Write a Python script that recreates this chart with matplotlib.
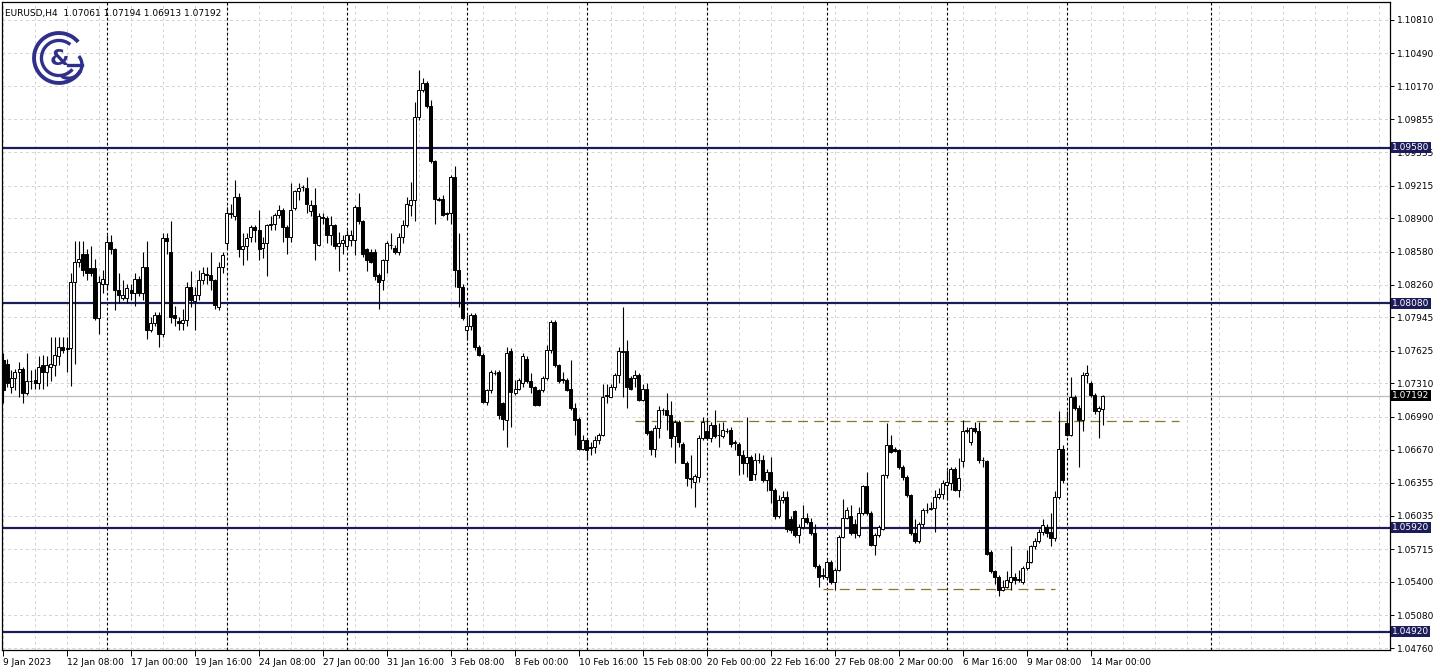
import matplotlib
matplotlib.use("Agg")
import matplotlib.pyplot as plt
import matplotlib.transforms as mtransforms
from matplotlib.patches import Arc
import numpy as np

# ---------------- data ----------------
opens = [1.0754,1.0750,1.0728,1.0736,1.0742,1.0745,1.0722,1.0733,1.0734,1.0731,
1.0749,1.0742,1.0747,1.0749,1.0757,1.0766,1.0765,1.0765,1.0829,1.0848,
1.0856,1.0856,1.0842,1.0842,1.0794,1.0827,1.0827,1.0867,1.0860,1.0821,
1.0813,1.0813,1.0821,1.0818,1.0832,1.0818,1.0843,1.0782,1.0789,1.0797,
1.0779,1.0871,1.0858,1.0797,1.0791,1.0789,1.0792,1.0824,1.0810,1.0816,
1.0831,1.0836,1.0835,1.0831,1.0805,1.0843,1.0866,1.0894,1.0892,1.0911,
1.0860,1.0863,1.0872,1.0882,1.0879,1.0861,1.0866,1.0884,1.0885,1.0893,
1.0898,1.0882,1.0872,1.0900,1.0916,1.0920,1.0919,1.0897,1.0903,1.0864,
1.0891,1.0890,1.0874,1.0884,1.0863,1.0866,1.0863,1.0869,1.0869,1.0901,
1.0887,1.0860,1.0858,1.0858,1.0835,1.0831,1.0850,1.0864,1.0861,1.0858,
1.0872,1.0884,1.0903,1.0908,1.0988,1.1014,1.1020,1.0998,1.0945,1.0909,
1.0909,1.0895,1.0895,1.0930,1.0840,1.0824,1.0782,1.0786,1.0797,1.0766,
1.0758,1.0713,1.0725,1.0741,1.0742,1.0712,1.0696,1.0762,1.0722,1.0726,
1.0731,1.0755,1.0733,1.0728,1.0725,1.0725,1.0736,1.0763,1.0790,1.0749,
1.0735,1.0734,1.0726,1.0707,1.0697,1.0668,1.0677,1.0670,1.0670,1.0677,
1.0681,1.0719,1.0718,1.0728,1.0739,1.0762,1.0762,1.0736,1.0736,1.0739,
1.0715,1.0726,1.0685,1.0668,1.0688,1.0705,1.0705,1.0701,1.0680,1.0694,
1.0673,1.0654,1.0640,1.0636,1.0641,1.0678,1.0685,1.0678,1.0691,1.0681,
1.0680,1.0685,1.0686,1.0674,1.0673,1.0662,1.0654,1.0660,1.0644,1.0657,
1.0657,1.0638,1.0646,1.0628,1.0603,1.0619,1.0622,1.0600,1.0608,1.0585,
1.0593,1.0601,1.0598,1.0587,1.0555,1.0547,1.0545,1.0559,1.0540,1.0551,
1.0583,1.0601,1.0603,1.0596,1.0585,1.0606,1.0632,1.0606,1.0575,1.0585,
1.0591,1.0643,1.0672,1.0668,1.0667,1.0651,1.0641,1.0624,1.0587,1.0579,
1.0596,1.0609,1.0610,1.0611,1.0622,1.0625,1.0633,1.0635,1.0649,1.0628,
1.0656,1.0685,1.0675,1.0688,1.0685,1.0657,1.0656,1.0569,1.0550,1.0545,
1.0532,1.0535,1.0540,1.0545,1.0542,1.0540,1.0553,1.0559,1.0574,1.0579,
1.0588,1.0593,1.0588,1.0582,1.0622,1.0668,1.0693,1.0681,1.0718,1.0707,
1.0696,1.0739,1.0731,1.0720,1.0704,1.07061]
highs = [1.0760,1.0755,1.0744,1.0745,1.0752,1.0747,1.0760,1.0744,1.0745,1.0757,
1.0758,1.0757,1.0776,1.0776,1.0776,1.0776,1.0776,1.0837,1.0868,1.0868,
1.0868,1.0860,1.0863,1.0851,1.0834,1.0840,1.0874,1.0874,1.0861,1.0837,
1.0831,1.0827,1.0827,1.0837,1.0834,1.0858,1.0868,1.0795,1.0800,1.0800,
1.0876,1.0876,1.0887,1.0806,1.0795,1.0803,1.0829,1.0839,1.0824,1.0840,
1.0843,1.0843,1.0858,1.0832,1.0848,1.0858,1.0901,1.0904,1.0927,1.0914,
1.0876,1.0876,1.0884,1.0884,1.0898,1.0872,1.0885,1.0892,1.0895,1.0903,
1.0900,1.0884,1.0924,1.0917,1.0924,1.0922,1.0930,1.0908,1.0919,1.0895,
1.0895,1.0892,1.0892,1.0885,1.0877,1.0874,1.0879,1.0879,1.0903,1.0914,
1.0888,1.0861,1.0860,1.0860,1.0837,1.0851,1.0868,1.0876,1.0864,1.0876,
1.0888,1.0911,1.0925,1.1002,1.1033,1.1025,1.1022,1.1004,1.0946,1.0911,
1.0912,1.0896,1.0932,1.0940,1.0876,1.0827,1.0797,1.0799,1.0799,1.0768,
1.0760,1.0726,1.0744,1.0744,1.0744,1.0713,1.0766,1.0765,1.0734,1.0736,
1.0760,1.0757,1.0741,1.0729,1.0726,1.0738,1.0768,1.0792,1.0792,1.0750,
1.0742,1.0736,1.0754,1.0712,1.0699,1.0681,1.0678,1.0675,1.0680,1.0683,
1.0730,1.0730,1.0730,1.0741,1.0766,1.0805,1.0773,1.0738,1.0744,1.0741,
1.0730,1.0731,1.0686,1.0691,1.0709,1.0707,1.0722,1.0714,1.0696,1.0696,
1.0675,1.0656,1.0662,1.0644,1.0681,1.0699,1.0697,1.0694,1.0705,1.0693,
1.0694,1.0688,1.0689,1.0677,1.0675,1.0667,1.0699,1.0662,1.0664,1.0664,
1.0662,1.0649,1.0660,1.0630,1.0624,1.0627,1.0627,1.0603,1.0609,1.0596,
1.0614,1.0606,1.0601,1.0596,1.0557,1.0553,1.0561,1.0561,1.0553,1.0585,
1.0620,1.0612,1.0614,1.0600,1.0612,1.0633,1.0646,1.0608,1.0587,1.0595,
1.0644,1.0693,1.0681,1.0670,1.0668,1.0652,1.0643,1.0625,1.0600,1.0598,
1.0611,1.0616,1.0617,1.0628,1.0630,1.0638,1.0648,1.0651,1.0651,1.0659,
1.0696,1.0689,1.0689,1.0694,1.0694,1.0660,1.0657,1.0571,1.0551,1.0547,
1.0542,1.0550,1.0574,1.0548,1.0551,1.0555,1.0571,1.0575,1.0582,1.0591,
1.0600,1.0596,1.0606,1.0627,1.0704,1.0672,1.0704,1.0737,1.0720,1.0710,
1.0742,1.0749,1.0733,1.0722,1.0709,1.07194]
lows = [1.0712,1.0728,1.0722,1.0725,1.0718,1.0712,1.0720,1.0726,1.0726,1.0726,
1.0726,1.0729,1.0733,1.0738,1.0749,1.0760,1.0742,1.0729,1.0750,1.0843,
1.0834,1.0831,1.0834,1.0792,1.0779,1.0818,1.0821,1.0856,1.0802,1.0808,
1.0811,1.0808,1.0811,1.0806,1.0815,1.0811,1.0774,1.0781,1.0786,1.0766,
1.0776,1.0856,1.0789,1.0786,1.0782,1.0782,1.0786,1.0805,1.0782,1.0811,
1.0827,1.0827,1.0821,1.0803,1.0802,1.0837,1.0860,1.0890,1.0888,1.0853,
1.0845,1.0850,1.0867,1.0867,1.0850,1.0852,1.0834,1.0879,1.0879,1.0890,
1.0867,1.0856,1.0867,1.0898,1.0908,1.0916,1.0895,1.0892,1.0850,1.0863,
1.0885,1.0866,1.0864,1.0860,1.0839,1.0856,1.0860,1.0863,1.0855,1.0885,
1.0853,1.0839,1.0847,1.0831,1.0803,1.0821,1.0837,1.0860,1.0856,1.0855,
1.0866,1.0882,1.0892,1.0887,1.0985,1.1012,1.0996,1.0943,1.0885,1.0907,
1.0892,1.0888,1.0885,1.0824,1.0805,1.0792,1.0773,1.0782,1.0763,1.0757,
1.0712,1.0710,1.0722,1.0739,1.0697,1.0686,1.0670,1.0689,1.0720,1.0725,
1.0728,1.0731,1.0722,1.0709,1.0709,1.0723,1.0734,1.0760,1.0747,1.0731,
1.0731,1.0724,1.0705,1.0681,1.0667,1.0667,1.0657,1.0662,1.0664,1.0673,
1.0680,1.0712,1.0718,1.0725,1.0731,1.0718,1.0707,1.0725,1.0728,1.0714,
1.0714,1.0681,1.0662,1.0660,1.0678,1.0701,1.0686,1.0670,1.0654,1.0670,
1.0654,1.0632,1.0630,1.0612,1.0636,1.0677,1.0677,1.0675,1.0678,1.0670,
1.0678,1.0683,1.0670,1.0667,1.0643,1.0644,1.0641,1.0638,1.0638,1.0654,
1.0636,1.0627,1.0616,1.0600,1.0601,1.0616,1.0588,1.0587,1.0583,1.0577,
1.0591,1.0596,1.0585,1.0553,1.0535,1.0543,1.0543,1.0538,1.0532,1.0550,
1.0582,1.0600,1.0585,1.0582,1.0583,1.0604,1.0604,1.0574,1.0566,1.0583,
1.0590,1.0640,1.0664,1.0665,1.0649,1.0638,1.0622,1.0585,1.0577,1.0577,
1.0593,1.0606,1.0609,1.0588,1.0620,1.0620,1.0619,1.0628,1.0627,1.0622,
1.0651,1.0683,1.0672,1.0683,1.0654,1.0651,1.0566,1.0548,1.0538,1.0526,
1.0531,1.0534,1.0532,1.0538,1.0540,1.0538,1.0551,1.0558,1.0572,1.0577,
1.0585,1.0583,1.0574,1.0579,1.0620,1.0635,1.0680,1.0680,1.0705,1.0651,
1.0685,1.0731,1.0718,1.0702,1.0678,1.06913]
closes = [1.0725,1.0731,1.0736,1.0742,1.0745,1.0722,1.0733,1.0733,1.0731,1.0747,
1.0742,1.0749,1.0750,1.0758,1.0766,1.0763,1.0764,1.0829,1.0848,1.0851,
1.0840,1.0837,1.0837,1.0794,1.0829,1.0832,1.0867,1.0860,1.0821,1.0816,
1.0816,1.0823,1.0818,1.0832,1.0818,1.0843,1.0782,1.0789,1.0797,1.0779,
1.0871,1.0868,1.0795,1.0794,1.0789,1.0792,1.0824,1.0811,1.0816,1.0831,
1.0837,1.0835,1.0831,1.0807,1.0843,1.0855,1.0895,1.0895,1.0911,1.0860,
1.0863,1.0871,1.0882,1.0879,1.0860,1.0866,1.0884,1.0885,1.0893,1.0898,
1.0882,1.0872,1.0898,1.0916,1.0919,1.0920,1.0904,1.0903,1.0866,1.0892,
1.0890,1.0874,1.0884,1.0863,1.0866,1.0869,1.0874,1.0874,1.0901,1.0887,
1.0856,1.0850,1.0848,1.0834,1.0829,1.0850,1.0866,1.0864,1.0858,1.0872,
1.0884,1.0904,1.0908,1.0988,1.1014,1.1020,1.0998,1.0945,1.0909,1.0908,
1.0893,1.0894,1.0930,1.0840,1.0824,1.0794,1.0786,1.0797,1.0766,1.0758,
1.0713,1.0725,1.0742,1.0741,1.0701,1.0697,1.0760,1.0723,1.0726,1.0734,
1.0757,1.0733,1.0728,1.0710,1.0710,1.0736,1.0763,1.0790,1.0749,1.0733,
1.0734,1.0725,1.0707,1.0696,1.0668,1.0677,1.0667,1.0669,1.0677,1.0681,
1.0718,1.0720,1.0728,1.0739,1.0762,1.0761,1.0728,1.0726,1.0739,1.0715,
1.0726,1.0683,1.0668,1.0688,1.0705,1.0705,1.0701,1.0678,1.0694,1.0675,
1.0654,1.0640,1.0639,1.0642,1.0678,1.0694,1.0678,1.0691,1.0680,1.0681,
1.0686,1.0685,1.0673,1.0674,1.0662,1.0654,1.0660,1.0638,1.0657,1.0657,
1.0638,1.0646,1.0628,1.0603,1.0619,1.0622,1.0591,1.0590,1.0585,1.0593,
1.0601,1.0598,1.0587,1.0555,1.0545,1.0546,1.0559,1.0540,1.0551,1.0583,
1.0601,1.0609,1.0587,1.0587,1.0606,1.0632,1.0606,1.0575,1.0585,1.0593,
1.0643,1.0672,1.0665,1.0666,1.0651,1.0641,1.0624,1.0587,1.0579,1.0596,
1.0609,1.0609,1.0611,1.0622,1.0625,1.0635,1.0636,1.0649,1.0628,1.0640,
1.0685,1.0686,1.0688,1.0685,1.0657,1.0657,1.0567,1.0550,1.0545,1.0532,
1.0535,1.0542,1.0545,1.0542,1.0542,1.0553,1.0559,1.0574,1.0579,1.0588,
1.0595,1.0587,1.0582,1.0622,1.0668,1.0638,1.0681,1.0718,1.0707,1.0696,
1.0739,1.0741,1.0720,1.0704,1.0707,1.07192]

x_labels = ["9 Jan 2023", "12 Jan 08:00", "17 Jan 00:00", "19 Jan 16:00", "24 Jan 08:00",
            "27 Jan 00:00", "31 Jan 16:00", "3 Feb 08:00", "8 Feb 00:00", "10 Feb 16:00",
            "15 Feb 08:00", "20 Feb 00:00", "22 Feb 16:00", "27 Feb 08:00", "2 Mar 00:00",
            "6 Mar 16:00", "9 Mar 08:00", "14 Mar 00:00"]
y_ticks = [1.10810, 1.10490, 1.10170, 1.09855, 1.09535, 1.09215, 1.08900, 1.08580,
           1.08260, 1.07945, 1.07625, 1.07310, 1.06990, 1.06670, 1.06355, 1.06035,
           1.05715, 1.05400, 1.05080, 1.04760]
levels = [1.09580, 1.08080, 1.05920, 1.04920]
current_price = 1.07192
dashed_levels = [(1.0695, 158, 294), (1.0533, 205, 263)]
header = "EURUSD,H4  1.07061 1.07194 1.06913 1.07192"

# ---------------- figure ----------------
W, H = 1438, 671
fig = plt.figure(figsize=(W / 100, H / 100), dpi=100)
fig.patch.set_facecolor("white")
ax = fig.add_axes([2 / W, 21 / H, 1388 / W, 648 / H])
ax.set_facecolor("white")

n = len(opens)
idx = np.arange(n)
O = np.array(opens); Hh = np.array(highs); L = np.array(lows); C = np.array(closes)

ax.set_xlim(-0.25, 346.75)
ax.set_ylim(1.04743, 1.10983)

GRID = "#d2d2d2"
NAVY = "#1c1c5a"
FS = 6.5

# light grid
for yv in y_ticks:
    ax.axhline(yv, color=GRID, lw=0.7, ls=(0, (3, 3)), zorder=0)
for xv in range(0, 347, 8):
    ax.axvline(xv, color=GRID, lw=0.7, ls=(0, (3, 3)), zorder=0)
# week separators
for xv in [26, 56, 86, 116, 146, 176, 206, 236, 266, 302]:
    ax.axvline(xv, color="black", lw=0.8, ls=(0, (2.5, 2)), zorder=1)

# support/resistance
for lv in levels:
    ax.axhline(lv, color=NAVY, lw=1.6, zorder=2)
ax.axhline(current_price, color="#bdbdbd", lw=0.9, zorder=1.5)
for lv, x0, x1 in dashed_levels:
    ax.plot([x0, x1], [lv, lv], color="#8c7436", lw=0.9, ls=(0, (8, 5)), zorder=2)

# candles
up = C >= O
bot = np.minimum(O, C)
hgt = np.maximum(np.abs(C - O), 0.00003)
ax.vlines(idx, L, Hh, color="black", lw=0.8, zorder=3)
ax.bar(idx[up], hgt[up], bottom=bot[up], width=0.75, facecolor="white",
       edgecolor="black", linewidth=0.7, zorder=4)
ax.bar(idx[~up], hgt[~up], bottom=bot[~up], width=0.75, facecolor="black",
       edgecolor="black", linewidth=0.7, zorder=4)

# axes styling
for s in ax.spines.values():
    s.set_color("black"); s.set_linewidth(0.9)
ax.yaxis.tick_right()
ax.set_yticks(y_ticks)
ax.set_yticklabels([f"{v:.5f}" for v in y_ticks], fontsize=FS)
ax.tick_params(axis="y", length=3, width=0.7, pad=2, colors="black")
ax.set_xticks(np.arange(0, 16 * len(x_labels), 16))
ax.set_xticklabels(x_labels, fontsize=FS, ha="left")
ax.tick_params(axis="x", length=4, width=0.7, pad=1.5)

# right-side price tags
tr = mtransforms.blended_transform_factory(ax.transAxes, ax.transData)
for lv in levels:
    ax.text(1.0016, lv, f"{lv:.5f}", transform=tr, fontsize=FS, color="white",
            va="center", ha="left", clip_on=False, zorder=10,
            bbox=dict(boxstyle="square,pad=0.12", fc=NAVY, ec="none"))
ax.text(1.0016, current_price, f"{current_price:.5f}", transform=tr, fontsize=FS,
        color="white", va="center", ha="left", clip_on=False, zorder=10,
        bbox=dict(boxstyle="square,pad=0.12", fc="black", ec="none"))

# header
ax.text(0.002, 0.982, header, transform=ax.transAxes, fontsize=FS, va="center",
        ha="left", zorder=10)

# logo
lax = fig.add_axes([32 / W, (H - 85) / H, 54 / W, 54 / H])
lax.set_xlim(-1, 1); lax.set_ylim(-1, 1); lax.set_aspect("equal"); lax.axis("off")
LC = "#30308a"
lax.add_patch(Arc((0, 0), 1.85, 1.85, theta1=40, theta2=330, lw=2.8, color=LC))
lax.add_patch(Arc((0, 0), 1.3, 1.3, theta1=50, theta2=320, lw=2.4, color=LC))
lax.add_patch(Arc((0.35, -0.25), 1.0, 1.0, theta1=-120, theta2=40, lw=2.4, color=LC))
lax.plot([0.35, 0.85], [-0.25, -0.25], color=LC, lw=2.4)
lax.text(0.0, -0.05, "&", fontsize=16, color=LC, ha="center", va="center",
         fontweight="bold")

fig.savefig("out.png", dpi=100, facecolor="white")
